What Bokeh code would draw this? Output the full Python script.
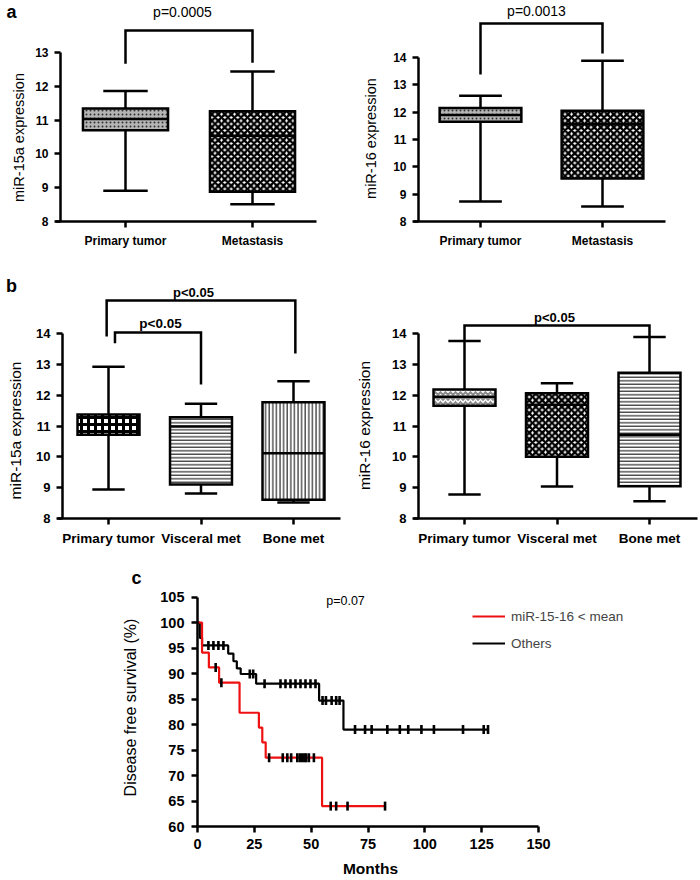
import numpy as np
from bokeh.plotting import figure
from bokeh.models import (Label, FixedTicker, Legend, LegendItem, ColumnDataSource, Range1d)
from bokeh.layouts import column, row
from bokeh.embed import file_html
from bokeh.resources import INLINE

# ------------------------------------------------------------------ data
groups_a = ["Primary tumor", "Metastasis"]
groups_b = ["Primary tumor", "Visceral met", "Bone met"]
# box statistics: [whisker low, Q1, median, Q3, whisker high]
a15_primary = [8.91, 10.70, 11.03, 11.34, 11.86]
a15_metastasis = [8.51, 8.88, 10.54, 11.26, 12.44]
a16_primary = [8.73, 11.65, 11.90, 12.15, 12.60]
a16_metastasis = [8.55, 9.57, 11.56, 12.05, 13.88]
b15_primary = [8.94, 10.72, 11.05, 11.37, 12.92]
b15_visceral = [8.81, 9.10, 10.98, 11.28, 11.72]
b15_bone = [8.52, 8.61, 10.12, 11.77, 12.45]
b16_primary = [8.78, 11.66, 11.95, 12.18, 13.76]
b16_visceral = [9.04, 10.00, 11.69, 12.06, 12.39]
b16_bone = [8.56, 9.05, 10.72, 12.73, 13.89]

ticks_a15 = [8, 9, 10, 11, 12, 13]
ticks_a16 = [8, 9, 10, 11, 12, 13, 14]
ticks_b = [8, 9, 10, 11, 12, 13, 14]

p_a15 = "p=0.0005"
p_a16 = "p=0.0013"
p_b = "p<0.05"
p_c = "p=0.07"

# Kaplan-Meier (months, % disease free)
red_event_times = [2, 5, 9.5, 18.5, 27, 28.5, 30, 54.8]
red_event_surv = [94.1, 91.2, 88.2, 82.3, 79.4, 76.5, 73.5, 64.0]
red_censor_times = [8, 10.5, 31.5, 37.5, 39.5, 41.2, 43.9, 45, 46, 47, 47.8, 49, 51.2,
                    58.6, 61, 66, 82.5]
red_last = 82.5
black_event_times = [1, 2, 13.5, 15.8, 17.3, 19, 25.8, 53.5, 64.2]
black_event_surv = [97.0, 95.5, 93.9, 92.4, 91.0, 89.9, 88.0, 84.7, 79.0]
black_censor_times = [4.8, 7, 9.2, 11.4, 23, 24.5, 29.5, 36.5, 38.7, 40.9, 43.1, 45.3, 47.5,
                      49.7, 51.9, 55, 56.5, 59, 61, 62.5, 69.3, 73.7, 76.6, 83.5, 89, 92.7,
                      98.5, 104, 116.8, 125.9, 127.8]
black_last = 127.8
km_y_ticks = [60, 65, 70, 75, 80, 85, 90, 95, 100, 105]
km_x_ticks = [0, 25, 50, 75, 100, 125, 150]
legend_labels = ["miR-15-16 < mean", "Others"]

# ------------------------------------------------------------------ geometry helpers
FONT = "Liberation Sans"


class Geo:
    """Figure placed at page (fx, fy) of size w x h; frame fills the figure.
    xa / ya: two (data value, page pixel) calibration pairs."""

    def __init__(self, fx, fy, w, h, xa, ya):
        self.fx, self.fy, self.w, self.h = fx, fy, w, h
        (xv1, xp1), (xv2, xp2) = xa
        (yv1, yp1), (yv2, yp2) = ya
        self.kx = (xv2 - xv1) / (xp2 - xp1)
        self.ky = (yv2 - yv1) / (yp2 - yp1)
        self.xv, self.xp, self.yv, self.yp = xv1, xp1, yv1, yp1

    def dx(self, px):
        return self.xv + (px - self.xp) * self.kx

    def dy(self, py):
        return self.yv + (py - self.yp) * self.ky


def make_fig(g, yaxis_px, xaxis_py, ybounds, xbounds_px, yticks, xticks, ysize, xsize,
             ystand=6, xstand=6):
    p = figure(width=g.w, height=g.h, output_backend="svg", toolbar_location=None,
               x_range=Range1d(g.dx(g.fx), g.dx(g.fx + g.w)),
               y_range=Range1d(g.dy(g.fy + g.h), g.dy(g.fy)),
               min_border_left=0, min_border_right=0, min_border_top=0,
               min_border_bottom=0)
    p.outline_line_color = None
    p.xgrid.visible = False
    p.ygrid.visible = False
    p.background_fill_color = "white"
    p.border_fill_color = "white"
    for ax in (p.xaxis[0], p.yaxis[0]):
        ax.axis_line_width = 2.5
        ax.major_tick_line_width = 2.5
        ax.major_tick_in = 0
        ax.major_tick_out = 6
        ax.minor_tick_line_color = None
        ax.major_label_text_font = FONT
        ax.major_label_text_font_style = "bold"
        ax.major_label_text_color = "black"
        ax.axis_line_color = "black"
        ax.major_tick_line_color = "black"
    ya, xa = p.yaxis[0], p.xaxis[0]
    ya.fixed_location = g.dx(yaxis_px)
    xa.fixed_location = g.dy(xaxis_py)
    ya.bounds = ybounds
    xa.bounds = (g.dx(xbounds_px[0]), g.dx(xbounds_px[1]))
    ya.ticker = FixedTicker(ticks=yticks)
    xa.ticker = FixedTicker(ticks=xticks)
    ya.major_label_text_font_size = f"{ysize}px"
    xa.major_label_text_font_size = f"{xsize}px"
    ya.major_label_standoff = ystand
    xa.major_label_standoff = xstand
    return p


def label(p, g, px, py, text, size, bold=False, angle=0.0, align="center"):
    p.add_layout(Label(x=g.dx(px), y=g.dy(py), text=text, text_font=FONT,
                       text_font_size=f"{size}px", text_align=align,
                       text_baseline="middle", angle=angle,
                       text_font_style="bold" if bold else "normal", text_color="black"))


STYLES = {
    "fine": dict(fill_color="#b5b5b5", hatch_pattern=".", hatch_color="#333333",
                 hatch_scale=4, hatch_weight=2.2),
    "checker": dict(fill_color="white", hatch_pattern="x", hatch_color="black",
                    hatch_scale=6.5, hatch_weight=2.4),
    "bigchecker": dict(fill_color="white", hatch_pattern="+", hatch_color="black",
                       hatch_scale=7, hatch_weight=3),
    "wave": dict(fill_color="#8c8c8c", hatch_pattern="v", hatch_color="white",
                 hatch_scale=5, hatch_weight=1.5),
    "hlines": dict(fill_color="white", hatch_pattern="-", hatch_color="black",
                   hatch_scale=3.5, hatch_weight=1),
    "vlines": dict(fill_color="white", hatch_pattern="|", hatch_color="black",
                   hatch_scale=3.6, hatch_weight=1),
}


def draw_box(p, x, stats, style, box_w=0.67, cap_w=0.35):
    lo, q1, med, q3, hi = stats
    src = ColumnDataSource(dict(x=[x], xl=[x - box_w / 2], xr=[x + box_w / 2],
                                cl=[x - cap_w / 2], cr=[x + cap_w / 2],
                                lo=[lo], q1=[q1], med=[med], q3=[q3], hi=[hi]))
    kw = dict(source=src, line_color="black", line_width=2.5)
    p.segment(x0="x", y0="q3", x1="x", y1="hi", **kw)
    p.segment(x0="x", y0="lo", x1="x", y1="q1", **kw)
    p.segment(x0="cl", y0="hi", x1="cr", y1="hi", **kw)
    p.segment(x0="cl", y0="lo", x1="cr", y1="lo", **kw)
    p.vbar(x="x", width=box_w, bottom="q1", top="q3", line_join="miter",
           **STYLES[style], **kw)
    p.segment(x0="xl", y0="med", x1="xr", y1="med", **kw)


def bracket(p, x1, y1, x2, y2, top):
    p.line(x=[x1, x1, x2, x2], y=[y1, top, top, y2], line_color="black",
           line_width=2.5, line_join="miter")


def box_panel(g, groups, boxes, styles, yticks, ylabel, ylab_pos, tick_size, axis_px,
              axis_end_px, label_size, xtick_size):
    xs = list(range(1, len(groups) + 1))
    p = make_fig(g, axis_px[0], axis_px[1], (yticks[0], yticks[-1]),
                 (axis_px[0] - 5, axis_end_px), yticks, xs, tick_size, xtick_size)
    for x, b, s in zip(xs, boxes, styles):
        draw_box(p, x, b, s)
    p.xaxis[0].major_label_overrides = {x: gname for x, gname in zip(xs, groups)}
    label(p, g, ylab_pos[0], ylab_pos[1], ylabel, label_size, angle=np.pi / 2)
    return p


# ------------------------------------------------------------------ panel a
gA1 = Geo(0, 0, 350, 273, ((1, 125), (2, 252)), ((8, 221), (13, 52)))
pA1 = box_panel(gA1, groups_a, [a15_primary, a15_metastasis], ["fine", "checker"],
                ticks_a15, "miR-15a expression", (18, 137), 12, (60, 221), 316, 14.5, 12)
bracket(pA1, 1, 12.67, 2, 12.70, 13.65)
label(pA1, gA1, 11, 11, "a", 18, bold=True)
label(pA1, gA1, 182, 11, p_a15, 14)

gA2 = Geo(350, 0, 348, 273, ((1, 480), (2, 602)), ((8, 221), (14, 57)))
pA2 = box_panel(gA2, groups_a, [a16_primary, a16_metastasis], ["fine", "checker"],
                ticks_a16, "miR-16 expression", (370, 138), 12, (418, 221), 665, 14.5, 12)
bracket(pA2, 1, 13.38, 2, 14.15, 15.24)
label(pA2, gA2, 536, 10, p_a16, 14)

# ------------------------------------------------------------------ panel b
gB1 = Geo(0, 273, 350, 287, ((1, 108), (3, 293)), ((8, 518), (14, 333)))
pB1 = box_panel(gB1, groups_b, [b15_primary, b15_visceral, b15_bone],
                ["bigchecker", "hlines", "vlines"], ticks_b, "miR-15a expression",
                (15, 430), 13, (62, 518), 340, 15.5, 13.5)
bracket(pB1, 0.98, 13.90, 3.02, 13.35, 15.07)
bracket(pB1, 1.07, 13.68, 2.0, 12.35, 14.03)
label(pB1, gB1, 11, 285, "b", 18, bold=True)
label(pB1, gB1, 193, 292, p_b, 13, bold=True)
label(pB1, gB1, 160, 323, p_b, 13.5, bold=True)

gB2 = Geo(350, 273, 348, 287, ((1, 464), (3, 649)), ((8, 518), (14, 333)))
pB2 = box_panel(gB2, groups_b, [b16_primary, b16_visceral, b16_bone],
                ["wave", "checker", "hlines"], ticks_b, "miR-16 expression",
                (364, 425), 13, (418, 518), 697, 15.5, 13.5)
bracket(pB2, 1, 13.76, 3, 13.89, 14.26)
label(pB2, gB2, 554, 317, p_b, 13, bold=True)

# ------------------------------------------------------------------ panel c
gC = Geo(0, 560, 698, 318, ((0, 197), (150, 538)), ((60, 826), (100, 622)))
pC = make_fig(gC, 197, 826, (60, 105), (197, 538), km_y_ticks, km_x_ticks, 14.5, 14.5,
              ystand=7, xstand=6)


def km_curve(times, surv, last):
    return [0] + list(times) + [last], [100] + list(surv) + [surv[-1]]


def level_at(t, times, surv):
    lvl = 100
    for tt, s in zip(times, surv):
        if tt <= t:
            lvl = s
    return lvl


rx, ry = km_curve(red_event_times, red_event_surv, red_last)
bx, by = km_curve(black_event_times, black_event_surv, black_last)
black_line = pC.step(x=bx, y=by, mode="after", line_color="black", line_width=2.2)
red_line = pC.step(x=rx, y=ry, mode="after", line_color="#ee1111", line_width=2.2)
bc_y = [level_at(t, black_event_times, black_event_surv) for t in black_censor_times]
rc_y = [level_at(t, red_event_times, red_event_surv) for t in red_censor_times]
pC.scatter(x=black_censor_times, y=bc_y, marker="dash", angle=np.pi / 2,
           size=9, line_color="black", line_width=2.6)
pC.scatter(x=red_censor_times, y=rc_y, marker="dash", angle=np.pi / 2,
           size=9, line_color="black", line_width=2.6)
# legend-only tick glyphs (empty data)
leg_tick_r = pC.scatter(x=[], y=[], marker="cross", size=10, line_color="black", line_width=2.4)
leg_tick_b = pC.scatter(x=[], y=[], marker="cross", size=10, line_color="black", line_width=2.4)

legend = Legend(items=[LegendItem(label=legend_labels[0], renderers=[red_line, leg_tick_r]),
                       LegendItem(label=legend_labels[1], renderers=[black_line, leg_tick_b])],
                location=(472 - gC.fx, gC.fy + gC.h - 651), glyph_width=33, glyph_height=16,
                spacing=11, padding=0, margin=0, border_line_color=None,
                background_fill_alpha=0, label_text_font=FONT, label_text_font_size="13.5px",
                label_standoff=6)
pC.add_layout(legend)

label(pC, gC, 136, 577, "c", 18, bold=True)
label(pC, gC, 130, 707, "Disease free survival (%)", 16, angle=np.pi / 2)
label(pC, gC, 345, 600, p_c, 12.5)
label(pC, gC, 370, 868, "Months", 15.5, bold=True)

layout = column(row(pA1, pA2), row(pB1, pB2), pC)
open("out.html", "w").write(file_html(layout, INLINE))
